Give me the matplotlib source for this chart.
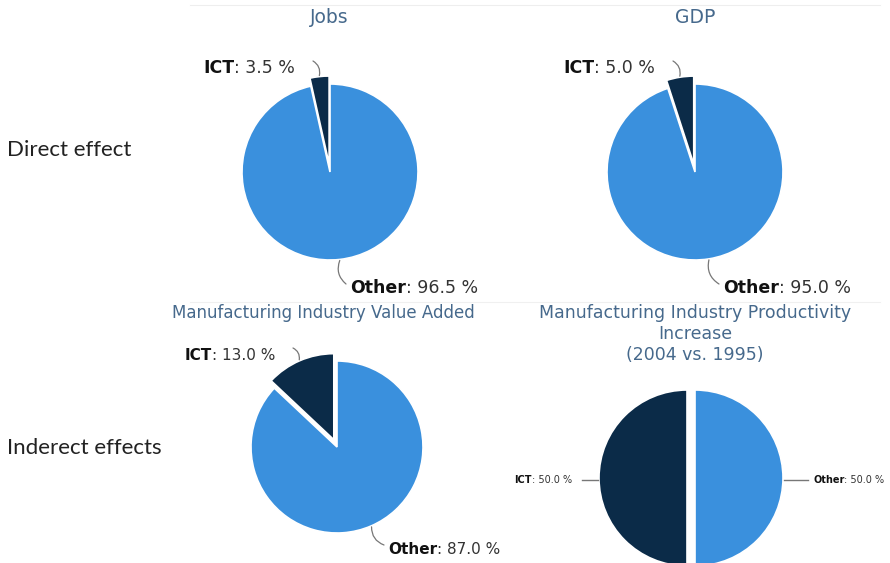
import numpy as np
import matplotlib.pyplot as plt

W, H = 890, 563

titles = ['Jobs', 'GDP', 'Manufacturing Industry Value Added',
          'Manufacturing Industry Productivity\nIncrease\n(2004 vs. 1995)']
ict_share = [3.5, 5.0, 13.0, 50.0]
other_share = [96.5, 95.0, 87.0, 50.0]
slice_names = ['ICT', 'Other']
row_labels = ['Direct effect', 'Inderect effects']

slice_colors = ['#0b2b48', '#3a90dd']
title_color = '#46698c'

# layout, pixels measured from the top-left corner
centers = [(330, 172), (695, 172), (337, 447), (695, 478)]
radii = [88, 88, 86, 88]
explode_px = [8, 8, 8, 8]
title_pos = [(329, 8), (695, 8), (323, 304), (695, 304)]
title_size = [13.5, 13.5, 12, 12.5]
ict_label_pos = [(295, 68), (655, 68), (275, 355), (572, 480)]
other_label_pos = [(350, 288), (723, 288), (388, 549), (813, 480)]
label_size = [12.5, 12.5, 11, 7]
row_label_pos = [(7, 150), (7, 448)]


def px(x, y):
    return x, H - y


fig = plt.figure(figsize=(W / 100, H / 100), dpi=100)
ax = fig.add_axes([0, 0, 1, 1])
ax.set_xlim(0, W)
ax.set_ylim(0, H)
ax.axis('off')

# faint separator lines
ax.plot([190, 880], [H - 5, H - 5], color='#eeeeee', lw=0.8)
ax.plot([190, 880], [H - 302, H - 302], color='#f0f0f0', lw=0.8)


def two_part_label(x, y, name, value, size, align):
    rest = ': %.1f %%' % value
    if align == 'right':
        t = ax.text(*px(x, y), rest, fontsize=size, ha='right', va='center', color='#333333')
        ax.annotate(name, xy=(0, 0), xycoords=t, ha='right', va='bottom',
                    fontsize=size, fontweight='bold', color='#111111')
    else:
        t = ax.text(*px(x, y), name, fontsize=size, ha='left', va='center',
                    fontweight='bold', color='#111111')
        ax.annotate(rest, xy=(1, 0), xycoords=t, ha='left', va='bottom',
                    fontsize=size, color='#333333')


for i in range(4):
    cx, cy = px(*centers[i])
    r = radii[i]
    vals = [ict_share[i], other_share[i]]
    ax.pie(vals, colors=slice_colors, startangle=90, counterclock=True,
           center=(cx, cy), radius=r, explode=[explode_px[i], 0],
           wedgeprops=dict(edgecolor='white', linewidth=1.2), frame=True)

    tx, ty = px(*title_pos[i])
    ax.text(tx, ty, titles[i], ha='center', va='top', fontsize=title_size[i],
            color=title_color, linespacing=1.2)

    # slice mid angles from the data
    tot = sum(vals)
    ict_mid = np.deg2rad(90 + 180 * vals[0] / tot)
    oth_mid = np.deg2rad(90 + 360 * vals[0] / tot + 180 * vals[1] / tot)
    re = r + explode_px[i] + 1
    ict_edge = (cx + re * np.cos(ict_mid), cy + re * np.sin(ict_mid))
    oth_edge = (cx + (r + 1) * np.cos(oth_mid), cy + (r + 1) * np.sin(oth_mid))

    lx, ly = ict_label_pos[i]
    ox, oy = other_label_pos[i]
    two_part_label(lx, ly, slice_names[0], vals[0], label_size[i], 'right')
    two_part_label(ox, oy, slice_names[1], vals[1], label_size[i], 'left')

    if i < 3:
        ax.annotate('', xy=ict_edge, xytext=px(lx + 18, ly - 7),
                    arrowprops=dict(arrowstyle='-', color='#777777', lw=0.9,
                                    connectionstyle='arc3,rad=-0.35', shrinkA=0, shrinkB=0))
        ax.annotate('', xy=oth_edge, xytext=px(ox - 4, oy - 4),
                    arrowprops=dict(arrowstyle='-', color='#777777', lw=0.9,
                                    connectionstyle='arc3,rad=-0.35', shrinkA=0, shrinkB=0))
    else:
        ax.plot([lx + 10, ict_edge[0]], [H - ly, H - ly], color='#777777', lw=1)
        ax.plot([oth_edge[0], ox - 5], [H - oy, H - oy], color='#777777', lw=1)

for lab, (x, y) in zip(row_labels, row_label_pos):
    ax.text(*px(x, y), lab, ha='left', va='center', fontsize=16,
            family=['Lato', 'DejaVu Sans'], color='#222222')

ax.set_xlim(0, W)
ax.set_ylim(0, H)
ax.set_aspect('auto')
fig.savefig('out.png', dpi=100)
